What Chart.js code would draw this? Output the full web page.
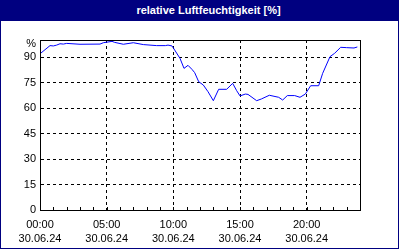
<!DOCTYPE html>
<html>
<head>
  <title>relative Luftfeuchtigkeit</title>
  <script src="https://cdn.jsdelivr.net/npm/chart.js"></script>
  <style>
    body {
      margin: 0;
      background: #fff;
      font-family: "Liberation Sans", Arial, sans-serif;
    }
    #wrap {
      position: relative;
      width: 400px;
      height: 250px;
    }
    #chart {
      position: absolute;
      left: 0;
      top: 0;
    }
    .titlebar {
      position: absolute;
      left: 0;
      top: 0;
      width: 399px;
      height: 21px;
      background: #000080;
      color: #fff;
      font-weight: bold;
      font-size: 11px;
      line-height: 20px;
      text-align: center;
      padding-left: 18px;
      box-sizing: border-box;
    }
    .frame {
      position: absolute;
      left: 0;
      top: 0;
      width: 399px;
      height: 249px;
      border: 1px solid #000080;
      box-sizing: border-box;
      pointer-events: none;
    }
  </style>
</head>
<body>
  <div id="wrap">
    <canvas id="chart" width="400" height="250"></canvas>
    <div class="titlebar">relative Luftfeuchtigkeit [%]</div>
    <div class="frame"></div>
  </div>

  <script>
    // time of day in hours (30.06.24) and relative humidity in %
    const hours = [
      0.05, 0.75, 1.0, 1.25, 1.5, 1.75, 2.0, 3.0, 4.5, 4.75,
      5.4, 5.6, 6.25, 7.0, 7.75, 8.75, 9.4, 9.6, 9.9, 10.1,
      10.5, 10.8, 11.1, 11.4, 11.6, 11.9, 12.25, 12.6, 13.0, 13.4,
      14.0, 14.45, 14.75, 15.0, 15.4, 15.6, 16.25, 16.6, 17.2, 17.9,
      18.2, 18.55, 19.1, 19.5, 19.9, 20.3, 20.9, 21.2, 21.75, 22.1,
      22.55, 23.0, 23.55, 23.8
    ];
    const humidity = [
      92.2, 96.7, 96.5, 97.0, 97.8, 97.6, 98.0, 97.5, 97.6, 98.4,
      99.2, 98.6, 97.5, 98.4, 97.3, 96.7, 96.7, 97.0, 96.5, 94.1,
      89.2, 83.3, 85.1, 82.7, 80.8, 75.5, 73.5, 69.6, 64.3, 71.0,
      71.0, 74.5, 70.2, 67.1, 68.2, 68.0, 64.3, 65.3, 67.5, 66.3,
      64.7, 67.3, 67.3, 66.3, 68.2, 73.1, 73.1, 80.4, 90.2, 92.2,
      95.7, 95.5, 95.3, 95.9
    ];
    const yTicks = [0, 15, 30, 45, 60, 75, 90];
    const unitTick = 97.5; // where the "%" label sits
    const dateLabel = '30.06.24';

    const points = hours.map((h, i) => ({ x: h, y: humidity[i] }));

    // solid box round the plot and small hourly ticks on the bottom axis
    const framePlugin = {
      id: 'frame',
      afterDraw(chart) {
        const ctx = chart.ctx;
        const a = chart.chartArea;
        const xs = chart.scales.x;
        ctx.save();
        ctx.strokeStyle = '#000';
        ctx.lineWidth = 1;
        ctx.strokeRect(Math.round(a.left) + 0.5, Math.round(a.top) + 0.5,
          Math.round(a.right - a.left), Math.round(a.bottom - a.top));
        ctx.beginPath();
        for (let h = 0; h <= 24; h++) {
          const px = Math.round(xs.getPixelForValue(h)) + 0.5;
          ctx.moveTo(px, Math.round(a.bottom) - 3);
          ctx.lineTo(px, Math.round(a.bottom));
        }
        ctx.stroke();
        ctx.restore();
      }
    };

    new Chart(document.getElementById('chart'), {
      type: 'line',
      data: {
        datasets: [{
          data: points,
          borderColor: '#0000ff',
          borderWidth: 1,
          pointRadius: 0,
          tension: 0,
          fill: false
        }]
      },
      options: {
        responsive: false,
        animation: false,
        layout: { padding: { left: 0, top: 40, right: 40, bottom: 0 } },
        plugins: {
          legend: { display: false },
          tooltip: { enabled: false }
        },
        scales: {
          x: {
            type: 'linear',
            min: 0,
            max: 24,
            afterFit: s => { s.height = 40; },
            ticks: {
              stepSize: 1,
              autoSkip: false,
              maxRotation: 0,
              padding: 7,
              color: '#000',
              font: { family: '"Liberation Sans", Arial, sans-serif', size: 11, lineHeight: 1.36 },
              callback: v => v % 5 === 0
                ? [String(v).padStart(2, '0') + ':00', dateLabel]
                : ''
            },
            grid: {
              drawTicks: false,
              color: c => (c.tick && c.tick.value % 5 === 0 && c.tick.value > 0 && c.tick.value < 24)
                ? '#000' : 'rgba(0,0,0,0)'
            },
            border: { display: true, color: '#000', dash: [3, 3] }
          },
          y: {
            min: 0,
            max: 100,
            afterFit: s => { s.width = 40; },
            afterBuildTicks: s => {
              s.ticks = yTicks.concat([unitTick]).map(v => ({ value: v }));
            },
            ticks: {
              padding: 4,
              color: '#000',
              font: { family: '"Liberation Sans", Arial, sans-serif', size: 11 },
              callback: v => v === unitTick ? '%' : String(v)
            },
            grid: {
              drawTicks: false,
              color: c => (c.tick && c.tick.value > 0 && c.tick.value !== unitTick)
                ? '#000' : 'rgba(0,0,0,0)'
            },
            border: { display: true, color: '#000', dash: [3, 3] }
          }
        }
      },
      plugins: [framePlugin]
    });
  </script>
</body>
</html>
